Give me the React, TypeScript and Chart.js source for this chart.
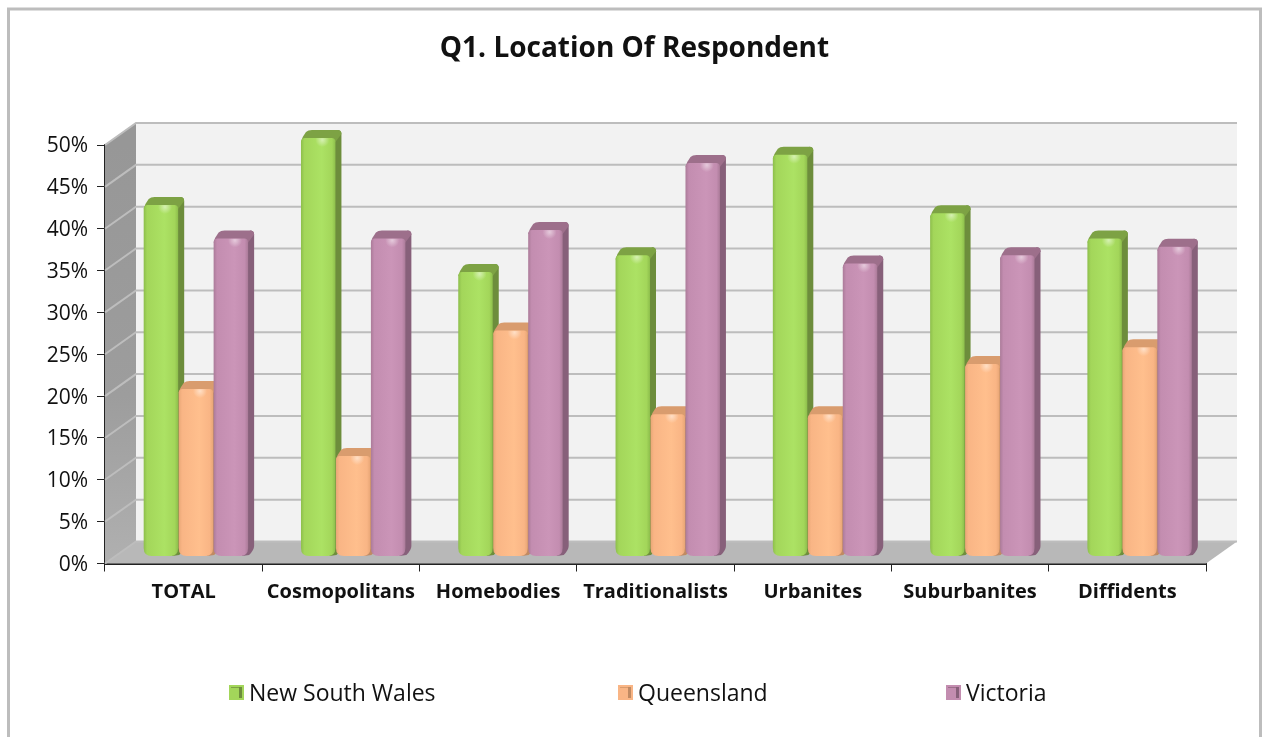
import React, { useEffect, useRef } from "react";
import { Chart, registerables } from "chart.js";

Chart.register(...registerables);

const categories = ["TOTAL", "Cosmopolitans", "Homebodies", "Traditionalists", "Urbanites", "Suburbanites", "Diffidents"];
const newSouthWales = [42, 50, 34, 36, 48, 41, 38];
const queensland = [20, 12, 27, 17, 17, 23, 25];
const victoria = [38, 38, 39, 47, 35, 36, 37];
const seriesNames = ["New South Wales", "Queensland", "Victoria"];
const yTicks = [0, 5, 10, 15, 20, 25, 30, 35, 40, 45, 50];

const palette = [
  { base: "#a3d65a", hi: "#ace264", edge: "#8dbe4c", top: "#7da244", side: "#6d8d3c" },
  { base: "#f9b585", hi: "#ffbf8d", edge: "#e8a676", top: "#d99c6e", side: "#c08a62" },
  { base: "#c38db0", hi: "#cb95b8", edge: "#ab7b99", top: "#9d6f8b", side: "#87607a" },
];

const FONT = '"Open Sans", "Noto Sans", sans-serif';
const BAR_DX = 12.5;
const BAR_DY = -7;
const SIDE_W = 6;
const CAP_H = 8;
const WALL_DX = 31;
const WALL_DY = -22;
const LEGEND_X = [229, 618, 946];

function frontPath(ctx: CanvasRenderingContext2D, x: number, y: number, w: number, h: number) {
  const t = 4;
  const r = 8;
  ctx.beginPath();
  ctx.moveTo(x + t, y);
  ctx.lineTo(x + w - t, y);
  ctx.quadraticCurveTo(x + w, y, x + w, y + t);
  ctx.lineTo(x + w, y + h - r);
  ctx.quadraticCurveTo(x + w, y + h, x + w - r, y + h);
  ctx.lineTo(x + r, y + h);
  ctx.quadraticCurveTo(x, y + h, x, y + h - r);
  ctx.lineTo(x, y + t);
  ctx.quadraticCurveTo(x, y, x + t, y);
  ctx.closePath();
}

const wallPlugin = {
  id: "wall",
  beforeDatasetsDraw(chart: any) {
    const { ctx, chartArea: a, scales } = chart;
    const y0 = scales.y.getPixelForValue(0);
    const y50 = scales.y.getPixelForValue(50);
    ctx.save();
    ctx.fillStyle = "#f2f2f2";
    ctx.fillRect(a.left + WALL_DX, y50 + WALL_DY, a.right - a.left, y0 - y50);
    const g = ctx.createLinearGradient(0, y50, 0, y0);
    g.addColorStop(0, "#979797");
    g.addColorStop(0.6, "#9d9d9d");
    g.addColorStop(1, "#b0b0b0");
    ctx.fillStyle = g;
    ctx.beginPath();
    ctx.moveTo(a.left, y50);
    ctx.lineTo(a.left + WALL_DX, y50 + WALL_DY);
    ctx.lineTo(a.left + WALL_DX, y0 + WALL_DY);
    ctx.lineTo(a.left, y0);
    ctx.closePath();
    ctx.fill();
    ctx.fillStyle = "#b8b8b8";
    ctx.beginPath();
    ctx.moveTo(a.left, y0);
    ctx.lineTo(a.left + WALL_DX, y0 + WALL_DY);
    ctx.lineTo(a.right + WALL_DX, y0 + WALL_DY);
    ctx.lineTo(a.right, y0);
    ctx.closePath();
    ctx.fill();
    ctx.strokeStyle = "#bdbdbd";
    ctx.lineWidth = 2;
    for (const v of yTicks) {
      const p = scales.y.getPixelForValue(v);
      ctx.beginPath();
      ctx.moveTo(a.left, p);
      ctx.lineTo(a.left + WALL_DX, p + WALL_DY);
      ctx.lineTo(a.right + WALL_DX, p + WALL_DY);
      ctx.stroke();
    }
    ctx.restore();
  },
};

const barsPlugin = {
  id: "bevelBars",
  beforeDatasetsDraw(chart: any) {
    const { ctx } = chart;
    ctx.save();
    chart.data.datasets.forEach((_: any, di: number) => {
      const c = palette[di];
      for (const el of chart.getDatasetMeta(di).data) {
        const fw = el.width - 0.5;
        const x = el.x - el.width / 2 + BAR_DX;
        const y = el.y + BAR_DY;
        const b = el.base + BAR_DY;
        const h = b - y;
        const xr = x + fw;
        // side face
        ctx.fillStyle = c.side;
        ctx.beginPath();
        ctx.moveTo(xr - 3, y);
        ctx.lineTo(xr + SIDE_W - 4, y - CAP_H);
        ctx.quadraticCurveTo(xr + SIDE_W, y - CAP_H, xr + SIDE_W, y - CAP_H + 4);
        ctx.lineTo(xr + SIDE_W, b - 10);
        ctx.quadraticCurveTo(xr + SIDE_W, b - 6, xr + 1, b - 1);
        ctx.lineTo(xr - 6, b);
        ctx.closePath();
        ctx.fill();
        // top cap
        ctx.fillStyle = c.top;
        ctx.beginPath();
        ctx.moveTo(x, y + 4);
        ctx.quadraticCurveTo(x + 1, y - 1, x + 5, y - CAP_H + 2);
        ctx.quadraticCurveTo(x + 7, y - CAP_H, x + 11, y - CAP_H);
        ctx.lineTo(xr + SIDE_W - 4, y - CAP_H);
        ctx.quadraticCurveTo(xr + SIDE_W, y - CAP_H, xr + SIDE_W, y - CAP_H + 4);
        ctx.lineTo(xr, y + 4);
        ctx.closePath();
        ctx.fill();
        // front face
        const g = ctx.createLinearGradient(x, 0, xr, 0);
        g.addColorStop(0, c.edge);
        g.addColorStop(0.1, c.base);
        g.addColorStop(0.6, c.hi);
        g.addColorStop(0.9, c.base);
        g.addColorStop(1, c.edge);
        ctx.fillStyle = g;
        frontPath(ctx, x, y, fw, h);
        ctx.fill();
        // glare near the top
        ctx.save();
        frontPath(ctx, x, y, fw, h);
        ctx.clip();
        const gx = x + fw * 0.62;
        const glare = ctx.createRadialGradient(gx, y + 2, 0, gx, y + 2, 7);
        glare.addColorStop(0, "rgba(255,255,255,0.5)");
        glare.addColorStop(1, "rgba(255,255,255,0)");
        ctx.fillStyle = glare;
        ctx.fillRect(x, y, fw, 10);
        ctx.restore();
      }
    });
    ctx.restore();
  },
  beforeDatasetDraw() {
    return false;
  },
};

const legendPlugin = {
  id: "legendRow",
  afterDraw(chart: any) {
    const { ctx } = chart;
    ctx.save();
    ctx.font = `23px ${FONT}`;
    ctx.textBaseline = "middle";
    chart.data.datasets.forEach((ds: any, i: number) => {
      const c = palette[i];
      const x = LEGEND_X[i];
      ctx.fillStyle = c.base;
      ctx.fillRect(x, 685, 15, 15);
      ctx.fillStyle = c.top;
      ctx.fillRect(x + 2, 687, 11, 1);
      ctx.fillStyle = c.side;
      ctx.fillRect(x + 10, 687, 3, 11);
      ctx.fillStyle = "#111";
      ctx.fillText(ds.label, x + 20, 694);
    });
    ctx.restore();
  },
};

const framePlugin = {
  id: "frame",
  beforeDraw(chart: any) {
    const { ctx, width, height } = chart;
    ctx.save();
    ctx.fillStyle = "#fff";
    ctx.fillRect(0, 0, width, height);
    ctx.strokeStyle = "#bdbdbd";
    ctx.lineWidth = 3;
    ctx.strokeRect(8.5, 9, 1252, height + 20);
    ctx.restore();
    // nudge the y tick labels onto the tick marks
    for (const item of chart.scales.y.getLabelItems()) {
      item.options.translation[1] += 1.5;
    }
  },
};

const titleShift = {
  id: "titleShift",
  afterLayout(chart: any) {
    if (chart.titleBlock) {
      chart.titleBlock.left += 57;
    }
  },
};

export default function App() {
  const ref = useRef<HTMLCanvasElement>(null);
  useEffect(() => {
    if (!ref.current) return;
    const chart = new Chart(ref.current, {
      type: "bar",
      data: {
        labels: categories,
        datasets: [newSouthWales, queensland, victoria].map((data, i) => ({
          label: seriesNames[i],
          data,
          backgroundColor: palette[i].base,
          categoryPercentage: 0.667,
          barPercentage: 1,
        })),
      },
      options: {
        animation: false,
        responsive: false,
        layout: { padding: { left: 6, right: 57, top: 0, bottom: 133.5 } },
        plugins: {
          legend: { display: false },
          tooltip: { enabled: false },
          title: {
            display: true,
            text: "Q1. Location Of Respondent",
            color: "#111",
            font: { family: FONT, size: 28, weight: "bold" },
            padding: { top: 32, bottom: 79.4 },
          },
        },
        scales: {
          x: {
            afterFit: (s: any) => { s.height = 40; },
            grid: { drawOnChartArea: false, drawTicks: true, tickLength: 8, color: "#222", offset: true },
            border: { color: "#222", width: 2 },
            ticks: { color: "#111", font: { family: FONT, size: 20, weight: "bold" }, padding: 9, maxRotation: 0, autoSkip: false },
          },
          y: {
            min: 0,
            max: 50,
            afterFit: (s: any) => { s.width = 99; },
            grid: { drawOnChartArea: false, drawTicks: true, tickLength: 8, color: "#222" },
            border: { color: "#222", width: 2 },
            ticks: { stepSize: 5, color: "#111", font: { family: FONT, size: 21 }, padding: 9, callback: (v: any) => `${v}%` },
          },
        },
      },
      plugins: [framePlugin, titleShift, wallPlugin, barsPlugin, legendPlugin],
    } as any);
    return () => chart.destroy();
  }, []);
  return (
    <canvas
      ref={ref}
      width={1263}
      height={737}
      style={{ position: "absolute", left: 0, top: 0, display: "block" }}
    />
  );
}
